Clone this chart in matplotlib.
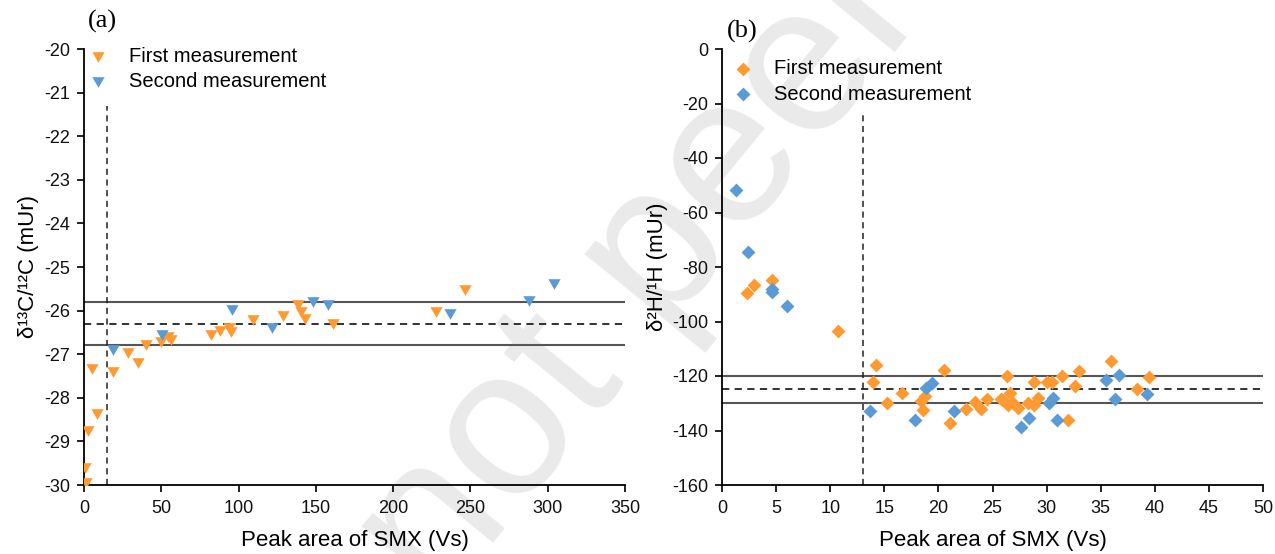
import matplotlib

matplotlib.use("Agg")
import matplotlib.pyplot as plt
from matplotlib.path import Path

ORANGE = "#FF9A33"
BLUE = "#5B9BD5"

# panel (a): delta13C vs peak area
c13_first_x = [0.5, 1.5, 2.8, 5, 8.2, 18.5, 28.7, 35, 40, 49.6, 54.5, 56, 82, 88, 94, 95,
               109.5, 128.5, 138.7, 140.4, 143, 161, 227.7, 246.4]
c13_first_y = [-29.6, -29.95, -28.75, -27.35, -28.38, -27.4, -26.97, -27.2, -26.78, -26.72,
               -26.6, -26.68, -26.55, -26.47, -26.4, -26.5, -26.22, -26.13, -25.88, -26.03,
               -26.19, -26.3, -26.03, -25.52]
c13_second_x = [19, 50.2, 95.5, 121.4, 148.3, 157.6, 236.7, 288, 304]
c13_second_y = [-26.9, -26.55, -25.98, -26.4, -25.8, -25.88, -26.08, -25.78, -25.38]
c13_band = [-25.8, -26.3, -26.8]
c13_cutoff = 15

# panel (b): delta2H vs peak area
h2_first_x = [2.28, 2.99, 4.65, 10.75, 14.23, 13.99, 15.22, 16.67, 18.6, 18.4, 18.76, 20.55,
              21.07, 22.55, 23.38, 23.9, 24.52, 25.79, 26.3, 26.6, 26.0, 26.46, 26.9, 27.4,
              28.3, 28.8, 29.2, 28.8, 30.0, 30.5, 32.0, 31.4, 32.6, 33.0, 35.95, 38.4, 39.5]
h2_first_y = [-89.7, -86.7, -84.6, -103.6, -116.1, -122.2, -129.9, -126.3, -132.4, -129.3,
              -127.5, -117.7, -137.3, -132.0, -129.7, -132.1, -128.5, -128.5, -120.1, -126.3,
              -128.7, -130.6, -129.8, -131.8, -129.9, -130.6, -128.1, -122.2, -122.2, -122.2,
              -136.1, -120.1, -123.8, -118.1, -114.6, -124.7, -120.4]
h2_second_x = [1.26, 2.43, 4.6, 4.65, 5.98, 13.68, 17.84, 18.85, 19.38, 21.47, 27.6, 28.4,
               30.25, 30.6, 31.0, 35.5, 36.3, 36.7, 39.25]
h2_second_y = [-51.9, -74.5, -88.0, -89.3, -94.4, -132.7, -136.3, -124.4, -122.4, -132.8,
               -138.8, -135.5, -129.9, -128.1, -136.1, -121.4, -128.5, -119.5, -126.6]
h2_band = [-120, -124.8, -130]
h2_cutoff = 13

TRI_DOWN = Path([(-1, 0.866), (1, 0.866), (0, -0.866), (-1, 0.866)], closed=True)

plt.rcParams.update(
    {
        "font.family": ["Liberation Sans", "DejaVu Sans"],
        "font.size": 13,
        "axes.unicode_minus": False,
        "axes.linewidth": 1.3,
        "xtick.major.width": 1.3,
        "ytick.major.width": 1.3,
        "xtick.major.size": 5,
        "ytick.major.size": 5,
        "xtick.major.pad": 6,
        "ytick.major.pad": 5,
    }
)


def style_axes(ax):
    ax.set_facecolor("none")
    ax.spines["top"].set_visible(False)
    ax.spines["right"].set_visible(False)
    ax.tick_params(direction="out", labelsize=13, colors="#111111")


def draw_band(ax, band, cutoff, y_top, x_max):
    hi, mid, lo = band
    ax.plot([0, x_max], [hi, hi], color="#555555", lw=1.5, zorder=1)
    ax.plot([0, x_max], [lo, lo], color="#555555", lw=1.5, zorder=1)
    ax.plot([0, x_max], [mid, mid], color="#222222", lw=1.3, ls=(0, (4, 3)), zorder=1)
    ax.plot([cutoff, cutoff], [ax.get_ylim()[0], y_top], color="#222222", lw=1.1,
            ls=(0, (4, 3)), zorder=1)


def add_legend(ax, x0, y0):
    ax.legend(loc="upper left", bbox_to_anchor=(x0, y0), frameon=False, fontsize=14.5,
              scatterpoints=1, handlelength=1.0, handletextpad=1.0, borderpad=0,
              borderaxespad=0, labelspacing=0.3)


fig = plt.figure(figsize=(12.75, 5.54), dpi=100)

# faint preprint watermark behind both panels
fig.text(0.345, -0.097, "not peer-reviewed", fontsize=152, color="#EAEAEA", rotation=50.7,
         rotation_mode="anchor", ha="left", va="baseline", zorder=-5,
         family=["Liberation Sans", "DejaVu Sans"])

ax1 = fig.add_axes([84 / 1275, 1 - 485 / 554, 541 / 1275, 436 / 554])
style_axes(ax1)
ax1.set_xlim(0, 350)
ax1.set_ylim(-30, -20)
ax1.set_xticks(range(0, 351, 50))
ax1.set_yticks(range(-30, -19, 1))
draw_band(ax1, c13_band, c13_cutoff, -21.3, 350)
ax1.scatter(c13_first_x, c13_first_y, marker=TRI_DOWN, s=78, color=ORANGE, lw=0, zorder=3,
            label="First measurement")
ax1.scatter(c13_second_x, c13_second_y, marker=TRI_DOWN, s=78, color=BLUE, lw=0, zorder=3,
            label="Second measurement")
ax1.set_xlabel("Peak area of SMX (Vs)", fontsize=16, labelpad=9)
ax1.set_ylabel("δ¹³C/¹²C (mUr)", fontsize=16, labelpad=4)
add_legend(ax1, 0.008, 1.005)
fig.text(88 / 1275, 1 - 21 / 554, "(a)", fontsize=19, family=["Liberation Serif"],
         va="center", ha="left")

ax2 = fig.add_axes([722 / 1275, 1 - 485 / 554, 541 / 1275, 436 / 554])
style_axes(ax2)
ax2.set_xlim(0, 50)
ax2.set_ylim(-160, 0)
ax2.set_xticks(range(0, 51, 5))
ax2.set_yticks(range(-160, 1, 20))
draw_band(ax2, h2_band, h2_cutoff, -23, 50)
ax2.scatter(h2_first_x, h2_first_y, marker="D", s=50, color=ORANGE, lw=0, zorder=3,
            label="First measurement")
ax2.scatter(h2_second_x, h2_second_y, marker="D", s=50, color=BLUE, lw=0, zorder=3,
            label="Second measurement")
ax2.set_xlabel("Peak area of SMX (Vs)", fontsize=16, labelpad=9)
ax2.set_ylabel("δ²H/¹H (mUr)", fontsize=16, labelpad=3)
add_legend(ax2, 0.021, 0.976)
fig.text(727 / 1275, 1 - 31 / 554, "(b)", fontsize=19, family=["Liberation Serif"],
         va="center", ha="left")

fig.savefig("out.png", dpi=100)
plt.close(fig)
